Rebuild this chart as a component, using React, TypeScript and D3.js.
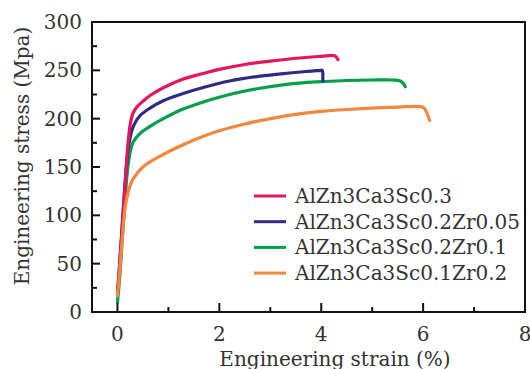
import React from "react";
import * as d3 from "d3";

const seriesNames = [
  "AlZn3Ca3Sc0.3",
  "AlZn3Ca3Sc0.2Zr0.05",
  "AlZn3Ca3Sc0.2Zr0.1",
  "AlZn3Ca3Sc0.1Zr0.2",
];
const seriesColors = ["#e5175a", "#2f2a85", "#00a04a", "#f4873e"];

const redStrain = [0.0, 0.05, 0.1, 0.15, 0.2, 0.25, 0.3, 0.38, 0.5, 0.64, 0.9, 1.29, 1.7, 2.0, 2.5, 3.0, 3.5, 4.0, 4.25, 4.3, 4.33];
const redStress = [18, 52, 92, 132, 170, 194, 205, 212, 218, 224, 232, 241, 247, 251, 256, 259.5, 262.5, 264.5, 265.3, 263.5, 261];

const blueStrain = [0.0, 0.05, 0.1, 0.15, 0.2, 0.25, 0.32, 0.44, 0.64, 0.9, 1.29, 1.7, 2.2, 2.8, 3.32, 3.7, 4.0, 4.02, 4.03];
const blueStress = [20, 56, 96, 134, 164, 181, 193, 203, 211, 218.5, 226, 232.5, 239, 244, 247, 248.8, 250, 250, 239];

const greenStrain = [0.0, 0.05, 0.1, 0.15, 0.2, 0.25, 0.31, 0.45, 0.64, 0.9, 1.29, 1.7, 2.2, 2.8, 3.32, 3.9, 4.5, 5.0, 5.4, 5.55, 5.62, 5.65];
const greenStress = [10, 40, 80, 118, 148, 166, 176, 185, 192, 200, 210, 217.5, 225, 231.5, 235.5, 238, 239.5, 240, 240, 239, 236, 233];

const orangeStrain = [0.0, 0.05, 0.1, 0.15, 0.2, 0.25, 0.31, 0.5, 0.83, 1.29, 1.7, 2.0, 2.5, 3.0, 3.5, 4.0, 4.5, 5.0, 5.5, 5.95, 6.02, 6.13];
const orangeStress = [17, 45, 80, 108, 122, 131, 138, 150, 161, 173, 182, 187.5, 194.5, 200, 204.5, 207.5, 209.5, 211, 212, 212.5, 211, 198];

const xMajorTicks = [0, 2, 4, 6, 8];
const xMinorTicks = [1, 3, 5, 7];
const yMajorTicks = [0, 50, 100, 150, 200, 250, 300];
const yMinorTicks = [25, 75, 125, 175, 225, 275];

const xTitle = "Engineering strain (%)";
const yTitle = "Engineering stress (Mpa)";

export default function App() {
  const W = 530, H = 369;
  const left = 92, right = 525, top = 22, bottom = 312;
  const x = d3.scaleLinear().domain([-0.5, 8]).range([left, right]);
  const y = d3.scaleLinear().domain([0, 300]).range([bottom, top]);
  const font = "DejaVu Serif";
  const data = [
    { s: redStrain, v: redStress },
    { s: blueStrain, v: blueStress },
    { s: greenStrain, v: greenStress },
    { s: orangeStrain, v: orangeStress },
  ];
  const line = d3
    .line<[number, number]>()
    .x((d) => x(d[0]))
    .y((d) => y(d[1]))
    .curve(d3.curveCatmullRom.alpha(0.5));
  const drawOrder = [2, 1, 0, 3];
  const legendX = 254, legendY0 = 196, legendDy = 25.7;
  return (
    <svg width={W} height={H} style={{ position: "absolute", left: 0, top: 0 }} fontFamily={font}>
      <rect x={0} y={0} width={W} height={H} fill="#fff" />
      {drawOrder.map((i) => (
        <path
          key={i}
          d={line(data[i].s.map((s, k) => [s, data[i].v[k]] as [number, number])) || ""}
          fill="none"
          stroke={seriesColors[i]}
          strokeWidth={3.2}
          strokeLinecap="round"
          strokeLinejoin="round"
        />
      ))}
      <rect x={left} y={top} width={right - left} height={bottom - top} fill="none" stroke="#111" strokeWidth={2} />
      {xMajorTicks.map((t) => (
        <g key={"xm" + t}>
          <line x1={x(t)} x2={x(t)} y1={bottom} y2={bottom - 9} stroke="#111" strokeWidth={2} />
          <text x={x(t)} y={341} textAnchor="middle" fontSize={20} fill="#333">{t}</text>
        </g>
      ))}
      {xMinorTicks.map((t) => (
        <line key={"xn" + t} x1={x(t)} x2={x(t)} y1={bottom} y2={bottom - 5} stroke="#111" strokeWidth={2} />
      ))}
      {yMajorTicks.map((t) => (
        <g key={"ym" + t}>
          <line x1={left} x2={left + 8} y1={y(t)} y2={y(t)} stroke="#111" strokeWidth={2} />
          <text x={82} y={y(t) + 7} textAnchor="end" fontSize={20} fill="#333">{t}</text>
        </g>
      ))}
      {yMinorTicks.map((t) => (
        <line key={"yn" + t} x1={left} x2={left + 5} y1={y(t)} y2={y(t)} stroke="#111" strokeWidth={2} />
      ))}
      <text x={335} y={366} textAnchor="middle" fontSize={20} fill="#333">{xTitle}</text>
      <text
        transform={`translate(${29},${156}) rotate(-90)`}
        textAnchor="middle"
        fontSize={20}
        fill="#333"
      >
        {yTitle}
      </text>
      {seriesNames.map((n, i) => (
        <g key={n}>
          <line
            x1={legendX}
            x2={legendX + 32}
            y1={legendY0 + i * legendDy}
            y2={legendY0 + i * legendDy}
            stroke={seriesColors[i]}
            strokeWidth={3}
          />
          <text x={295} y={legendY0 + i * legendDy + 7} fontSize={20} fill="#333">{n}</text>
        </g>
      ))}
    </svg>
  );
}
